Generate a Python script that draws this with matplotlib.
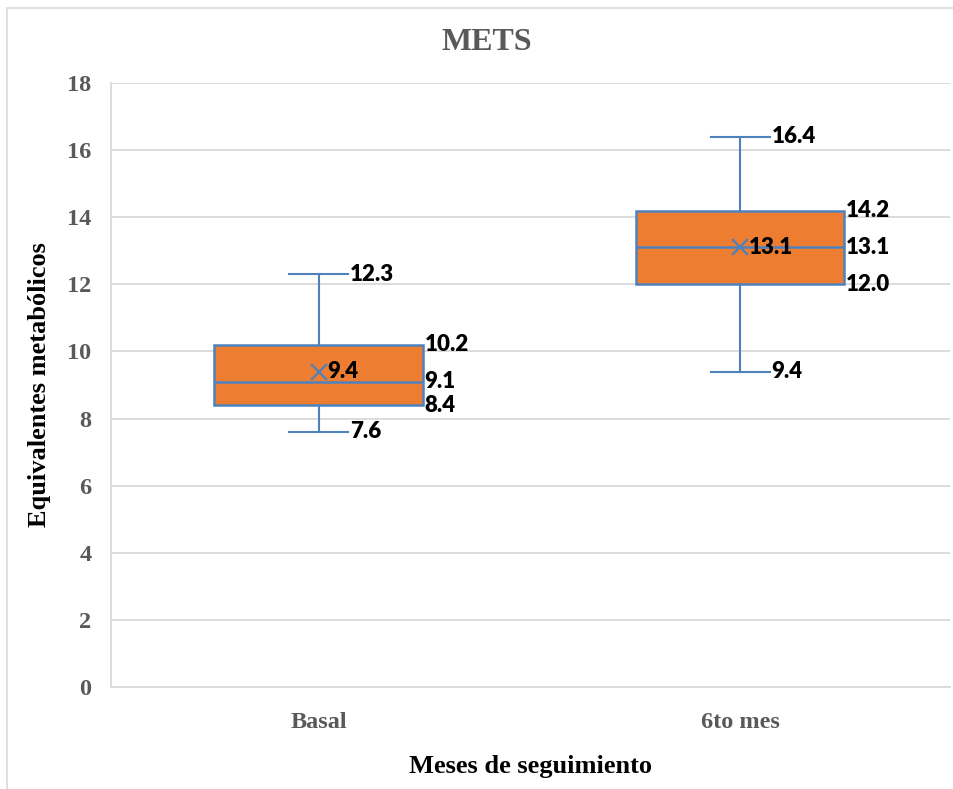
import matplotlib.pyplot as plt
from matplotlib.patches import Rectangle

# METS por mes de seguimiento
meses   = ['Basal', '6to mes']
minimo  = [7.6, 9.4]
q1      = [8.4, 12.0]
mediana = [9.1, 13.1]
q3      = [10.2, 14.2]
maximo  = [12.3, 16.4]
media   = [9.4, 13.1]

orange = '#ED7D31'
blue = '#4F81BD'
gray_txt = '#595959'
serif = ['Liberation Serif', 'DejaVu Serif']
lbl_font = dict(family=['Lato', 'DejaVu Sans'], fontweight='heavy', fontsize=16, color='black')

fig = plt.figure(figsize=(9.54, 7.89), dpi=100)
fig.patches.append(Rectangle((7/954, -0.1), 2, 1 - 8/789 + 0.1, transform=fig.transFigure,
                             fill=False, edgecolor='#D9D9D9', linewidth=1.2))
ax = fig.add_axes([111/954, 1 - 687/789, 839/954, 604/789])

stats = []
for i, m in enumerate(meses):
    stats.append({'label': m, 'whislo': minimo[i], 'q1': q1[i], 'med': mediana[i],
                  'q3': q3[i], 'whishi': maximo[i], 'mean': media[i]})

pos = [0.995, 2.0]
ax.bxp(stats, positions=pos, widths=0.497, patch_artist=True, showmeans=True,
       showfliers=False, capwidths=0.14,
       boxprops=dict(facecolor=orange, edgecolor=blue, linewidth=1.8),
       medianprops=dict(color=blue, linewidth=1.8),
       whiskerprops=dict(color=blue, linewidth=1.5),
       capprops=dict(color=blue, linewidth=1.5),
       meanprops=dict(marker='x', markeredgecolor=blue, markersize=12, markeredgewidth=1.6),
       zorder=3)

# etiquetas de valores
for i, p in enumerate(pos):
    ax.text(p + 0.075, maximo[i], f'{maximo[i]:.1f}', va='center', ha='left', **lbl_font)
    ax.text(p + 0.075, minimo[i], f'{minimo[i]:.1f}', va='center', ha='left', **lbl_font)
    ax.text(p + 0.2485 + 0.004, q3[i], f'{q3[i]:.1f}', va='center', ha='left', **lbl_font)
    ax.text(p + 0.2485 + 0.004, mediana[i], f'{mediana[i]:.1f}', va='center', ha='left', **lbl_font)
    ax.text(p + 0.2485 + 0.004, q1[i], f'{q1[i]:.1f}', va='center', ha='left', **lbl_font)
    ax.text(p + 0.02, media[i], f'{media[i]:.1f}', va='center', ha='left', zorder=5, **lbl_font)

ax.set_xlim(0.5, 2.5)
ax.set_ylim(0, 18)
ax.set_yticks(range(0, 19, 2))
ax.set_xticks(pos)
ax.set_xticklabels(meses)
ax.grid(axis='y', color='#D9D9D9', linewidth=1.3, zorder=0)
ax.set_axisbelow(True)
for s in ['top', 'right']:
    ax.spines[s].set_visible(False)
for s in ['left', 'bottom']:
    ax.spines[s].set_color('#D9D9D9')
    ax.spines[s].set_linewidth(1.3)
ax.tick_params(length=0, pad=14)
ax.tick_params(axis='x', pad=18)
for t in ax.get_yticklabels() + ax.get_xticklabels():
    t.set_family(serif)
    t.set_fontweight('bold')
    t.set_color(gray_txt)
    t.set_fontsize(17.5)

fig.text(487/954, 1 - 43/789, 'METS', ha='center', va='center', family=serif,
         fontweight='bold', fontsize=23, color=gray_txt)
fig.text(531/954, 1 - 766/789, 'Meses de seguimiento', ha='center', va='center',
         family=serif, fontweight='bold', fontsize=19)
fig.text(40/954, 1 - 385/789, 'Equivalentes metabólicos', ha='center', va='center',
         rotation=90, family=serif, fontweight='bold', fontsize=19)

fig.savefig('out.png', dpi=100)
